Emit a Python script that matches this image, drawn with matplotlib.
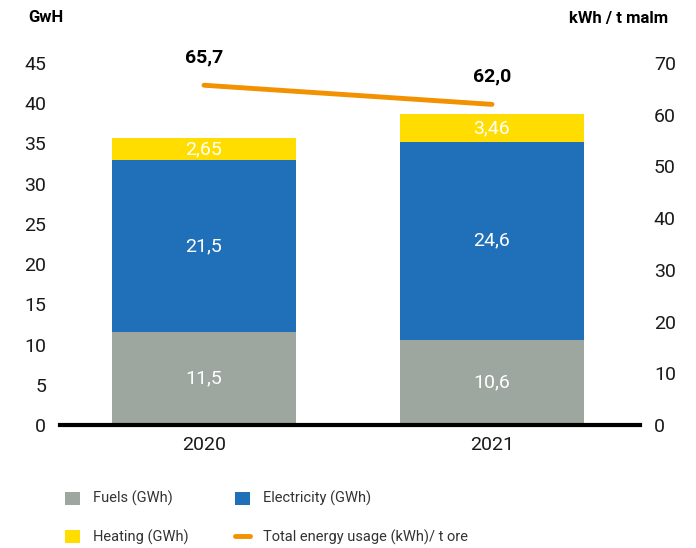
import numpy as np
import matplotlib.pyplot as plt

plt.rcParams['font.family'] = ['Roboto', 'DejaVu Sans']

years = ['2020', '2021']
fuels = [11.5, 10.6]
electricity = [21.5, 24.6]
heating = [2.65, 3.46]
total_per_t = [65.7, 62.0]

fuel_lbl = ['11,5', '10,6']
elec_lbl = ['21,5', '24,6']
heat_lbl = ['2,65', '3,46']
total_lbl = ['65,7', '62,0']

c_fuel = '#9ea79f'
c_elec = '#1f70b8'
c_heat = '#ffdd00'
c_line = '#f39200'

fig = plt.figure(figsize=(6.96, 5.48), dpi=100)
ax = fig.add_axes([60 / 696, 1 - 425 / 548, 580 / 696, 362 / 548])
ax2 = ax.twinx()

x = np.arange(len(years))
w = 0.64
b1 = ax.bar(x, fuels, w, color=c_fuel, label='Fuels (GWh)')
b2 = ax.bar(x, electricity, w, bottom=fuels, color=c_elec, label='Electricity (GWh)')
bot3 = np.array(fuels) + np.array(electricity)
b3 = ax.bar(x, heating, w, bottom=bot3, color=c_heat, label='Heating (GWh)')

for i in range(len(years)):
    ax.text(x[i], fuels[i] / 2, fuel_lbl[i], color='white', ha='center', va='center', fontsize=14)
    ax.text(x[i], fuels[i] + electricity[i] / 2, elec_lbl[i], color='white', ha='center', va='center', fontsize=14)
    ax.text(x[i], bot3[i] + heating[i] / 2, heat_lbl[i], color='white', ha='center', va='center', fontsize=14)

ln, = ax2.plot(x, total_per_t, color=c_line, lw=3.5, solid_capstyle='round',
               label='Total energy usage (kWh)/ t ore')
for i in range(len(years)):
    ax2.text(x[i], total_per_t[i] + 3.6, total_lbl[i], ha='center', va='bottom',
             fontsize=14, fontweight='bold', color='black')

ax.set_xlim(-0.5, 1.514)
ax.set_ylim(0, 45)
ax2.set_ylim(0, 70)
ax.set_yticks(range(0, 46, 5))
ax2.set_yticks(range(0, 71, 10))
ax.set_xticks(x)
ax.set_xticklabels(years)

for a in (ax, ax2):
    for s in ['top', 'left', 'right', 'bottom']:
        a.spines[s].set_visible(False)
    a.tick_params(length=0, labelsize=14, colors='#1a1a1a')
ax.spines['bottom'].set_visible(True)
ax.spines['bottom'].set_linewidth(3)
ax.spines['bottom'].set_color('black')
ax.spines['bottom'].set_zorder(5)
ax.tick_params(axis='y', pad=10)
ax2.tick_params(axis='y', pad=10)
ax.tick_params(axis='x', pad=8)

fig.text(28 / 696, 1 - 18 / 548, 'GwH', fontsize=12, fontweight='bold', va='center', ha='left')
fig.text(668 / 696, 1 - 18 / 548, 'kWh / t malm', fontsize=12, fontweight='bold', va='center', ha='right')

handles = [b1, b3, b2, ln]
labels = [h.get_label() for h in handles]
leg = fig.legend(handles, labels, ncol=2, loc='upper left', bbox_to_anchor=(52 / 696, 1 - 478 / 548),
                 frameon=False, fontsize=10.5, handlelength=1.0, handleheight=1.0,
                 columnspacing=3.2, labelspacing=1.6, handletextpad=0.9)
for t in leg.get_texts():
    t.set_color('#333333')

fig.savefig('out.png', dpi=100)
